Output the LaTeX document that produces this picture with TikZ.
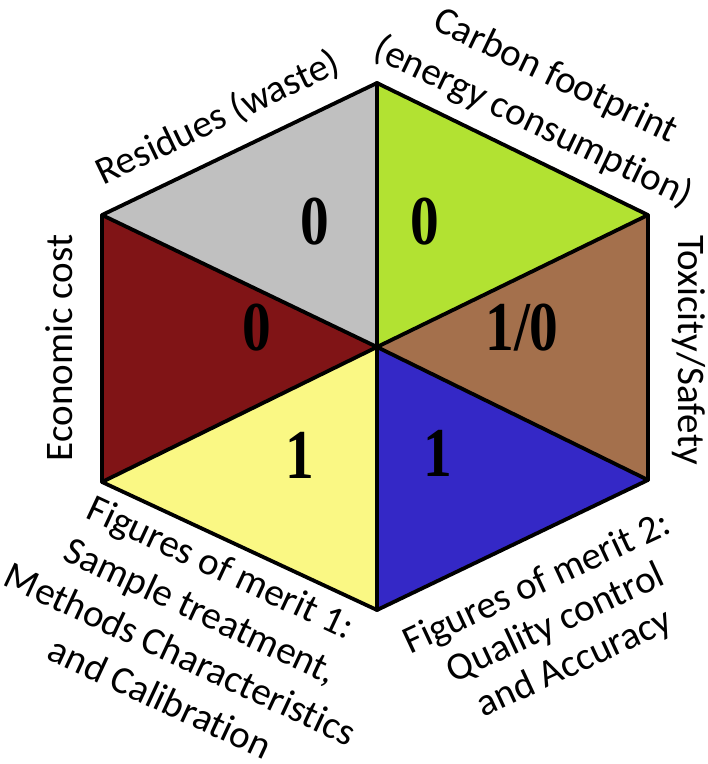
\documentclass[tikz,border=0pt]{standalone}
\usepackage{fontspec}
\setmainfont{Carlito}[Ligatures=CommonOff]
\newfontfamily\digitfont{Liberation Serif}
\definecolor{cgray}{RGB}{192,192,192}
\definecolor{cgreen}{RGB}{178,226,50}
\definecolor{cbrown}{RGB}{164,112,76}
\definecolor{cblue}{RGB}{52,40,198}
\definecolor{cyellow}{RGB}{250,248,132}
\definecolor{cred}{RGB}{128,20,22}
\begin{document}
\begin{tikzpicture}[x=1pt,y=-1pt,
  edge/.style={draw=black,line width=3.8pt,line join=round,line cap=round},
  lab/.style={font=\fontsize{39}{47}\selectfont,align=center,inner sep=0pt},
  num/.style={font=\digitfont\bfseries\fontsize{70}{70}\selectfont,inner sep=0pt}]
\useasboundingbox (0,0) rectangle (708,764);
\coordinate (C) at (377,347);
\coordinate (T) at (377,83);
\coordinate (TR) at (648,215);
\coordinate (BR) at (648,480);
\coordinate (B) at (377,610);
\coordinate (BL) at (102,482);
\coordinate (TL) at (102,215);
\fill[cgray] (C) -- (TL) -- (T) -- cycle;
\fill[cgreen] (C) -- (T) -- (TR) -- cycle;
\fill[cbrown] (C) -- (TR) -- (BR) -- cycle;
\fill[cblue] (C) -- (BR) -- (B) -- cycle;
\fill[cyellow] (C) -- (B) -- (BL) -- cycle;
\fill[cred] (C) -- (BL) -- (TL) -- cycle;
\draw[edge] (T) -- (TR) -- (BR) -- (B) -- (BL) -- (TL) -- cycle;
\draw[edge] (T) -- (C) -- (B);
\draw[edge] (TL) -- (C) -- (BR);
\draw[edge] (TR) -- (C) -- (BL);
\node[num] (n1) at (315,222) {\scalebox{0.82}[1]{0}};
\node[num] (n2) at (425,222) {\scalebox{0.82}[1]{0}};
\node[num] (n3) at (257,328) {\scalebox{0.82}[1]{0}};
\node[num] (n4) at (522,328) {\scalebox{0.82}[1]{1/0}};
\node[num] (n5) at (300,455) {\scalebox{0.82}[1]{1}};
\node[num] (n6) at (438,453) {\scalebox{0.82}[1]{1}};
\node[lab,rotate=25.6] (l1) at (218,118) {Residues (waste)};
\node[lab,rotate=-25.6,font=\fontsize{39}{51}\selectfont] (l2) at (544,100) {Carbon footprint\\(energy consumption)};
\node[lab,rotate=90] (l3) at (59,348) {Economic cost};
\node[lab,rotate=-90] (l4) at (689,350) {Toxicity/Safety};
\node[lab,rotate=-25,font=\fontsize{39}{48}\selectfont] (l5) at (191,632) {Figures of merit 1:\\Sample treatment,\\Methods Characteristics\\and Calibration};
\node[lab,rotate=25,font=\fontsize{39}{44}\selectfont] (l6) at (556,624) {Figures of merit 2:\\Quality control\\and Accuracy};
\end{tikzpicture}
\end{document}
